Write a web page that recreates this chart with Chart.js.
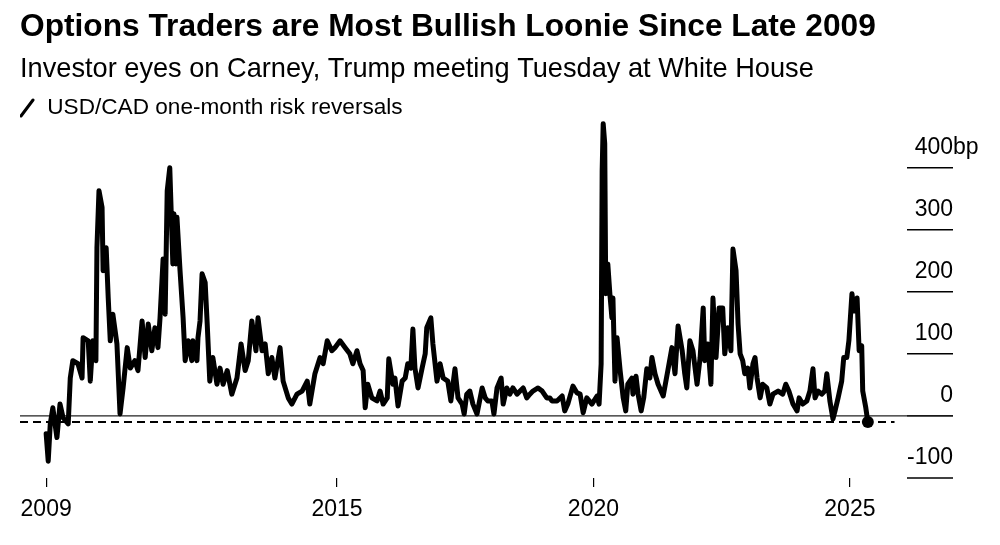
<!DOCTYPE html>
<html>
<head>
<meta charset="utf-8">
<script src="https://cdn.jsdelivr.net/npm/chart.js@4"></script>
<style>
  html, body { margin: 0; padding: 0; background: #fff; }
  .wrap { width: 1000px; height: 545px; }
</style>
</head>
<body>
<div class="wrap"><canvas class="js-chart"></canvas></div>
<script>
const TITLE = 'Options Traders are Most Bullish Loonie Since Late 2009';
const SUBTITLE = 'Investor eyes on Carney, Trump meeting Tuesday at White House';
const SERIES_LABEL = 'USD/CAD one-month risk reversals';
const Y_UNIT = 'bp';

// decimal years
const years = [
  2009.33, 2009.37, 2009.41, 2009.46, 2009.54, 2009.60, 2009.66, 2009.76, 2009.80, 2009.85,
  2009.95, 2010.03, 2010.05, 2010.15, 2010.19, 2010.24, 2010.30, 2010.32, 2010.36, 2010.42,
  2010.44, 2010.50, 2010.54, 2010.58, 2010.63, 2010.71, 2010.77, 2010.83, 2010.91, 2010.97,
  2011.06, 2011.12, 2011.20, 2011.26, 2011.32, 2011.39, 2011.45, 2011.51, 2011.55, 2011.61,
  2011.65, 2011.69, 2011.74, 2011.80, 2011.82, 2011.86, 2011.88, 2011.94, 2012.00, 2012.04,
  2012.10, 2012.17, 2012.19, 2012.27, 2012.29, 2012.33, 2012.37, 2012.43, 2012.47, 2012.52,
  2012.58, 2012.66, 2012.72, 2012.78, 2012.86, 2012.95, 2013.05, 2013.13, 2013.21, 2013.27,
  2013.34, 2013.42, 2013.46, 2013.54, 2013.60, 2013.66, 2013.73, 2013.79, 2013.89, 2013.95,
  2014.05, 2014.12, 2014.22, 2014.32, 2014.42, 2014.47, 2014.57, 2014.67, 2014.73, 2014.81,
  2014.90, 2014.96, 2015.06, 2015.16, 2015.25, 2015.31, 2015.39, 2015.45, 2015.51, 2015.55,
  2015.60, 2015.68, 2015.78, 2015.84, 2015.90, 2015.98, 2016.01, 2016.09, 2016.13, 2016.19,
  2016.27, 2016.33, 2016.38, 2016.44, 2016.48, 2016.52, 2016.58, 2016.66, 2016.72, 2016.75,
  2016.83, 2016.87, 2016.95, 2017.01, 2017.07, 2017.16, 2017.22, 2017.30, 2017.36, 2017.44,
  2017.48, 2017.53, 2017.59, 2017.65, 2017.73, 2017.83, 2017.89, 2017.94, 2018.02, 2018.06,
  2018.12, 2018.20, 2018.24, 2018.31, 2018.37, 2018.43, 2018.51, 2018.57, 2018.63, 2018.70,
  2018.76, 2018.82, 2018.92, 2019.00, 2019.09, 2019.15, 2019.19, 2019.29, 2019.39, 2019.44,
  2019.50, 2019.60, 2019.68, 2019.74, 2019.80, 2019.87, 2019.97, 2020.07, 2020.11, 2020.15,
  2020.17, 2020.19, 2020.22, 2020.24, 2020.28, 2020.32, 2020.36, 2020.38, 2020.42, 2020.46,
  2020.52, 2020.58, 2020.63, 2020.67, 2020.75, 2020.77, 2020.83, 2020.87, 2020.93, 2020.98,
  2021.04, 2021.10, 2021.14, 2021.20, 2021.26, 2021.36, 2021.45, 2021.53, 2021.59, 2021.65,
  2021.73, 2021.78, 2021.82, 2021.88, 2021.94, 2022.02, 2022.08, 2022.14, 2022.17, 2022.23,
  2022.29, 2022.33, 2022.39, 2022.45, 2022.52, 2022.56, 2022.62, 2022.68, 2022.72, 2022.78,
  2022.82, 2022.86, 2022.91, 2022.95, 2023.01, 2023.05, 2023.11, 2023.15, 2023.19, 2023.25,
  2023.30, 2023.38, 2023.44, 2023.50, 2023.60, 2023.69, 2023.75, 2023.81, 2023.89, 2023.97,
  2024.01, 2024.08, 2024.16, 2024.22, 2024.28, 2024.32, 2024.38, 2024.45, 2024.51, 2024.55,
  2024.61, 2024.67, 2024.71, 2024.77, 2024.84, 2024.88, 2024.94, 2024.98, 2025.04, 2025.08,
  2025.14, 2025.18, 2025.23, 2025.25, 2025.31, 2025.35,
];

// USD/CAD 1M risk reversal, bp
const riskReversals = [
  -29, -73, -13, 13, -35, 19, -3, -13, 61, 89,
  84, 61, 126, 121, 56, 121, 89, 271, 363, 336,
  234, 271, 190, 121, 164, 116, 3, 45, 110, 77,
  89, 73, 153, 94, 148, 105, 142, 110, 158, 253,
  164, 363, 400, 245, 326, 245, 320, 234, 158, 89,
  121, 89, 121, 89, 126, 153, 229, 215, 148, 56,
  94, 51, 77, 51, 73, 35, 61, 116, 73, 89,
  153, 105, 158, 105, 116, 68, 94, 61, 110, 56,
  29, 19, 35, 40, 56, 19, 68, 94, 84, 121,
  105, 110, 121, 110, 100, 84, 105, 84, 73, 13,
  51, 29, 24, 40, 19, 29, 92, 51, 61, 16,
  56, 61, 84, 77, 140, 77, 45, 77, 100, 142,
  158, 116, 56, 84, 61, 56, 24, 76, 29, 19,
  3, 35, 40, 19, 3, 45, 29, 24, 24, 3,
  45, 61, 19, 45, 35, 45, 35, 40, 45, 29,
  35, 40, 45, 40, 29, 29, 24, 24, 32, 8,
  19, 48, 37, 35, 5, 29, 19, 32, 19, 84,
  395, 471, 439, 197, 245, 197, 158, 190, 56, 126,
  73, 29, 8, 51, 61, 35, 64, 35, 8, 29,
  76, 61, 94, 68, 51, 32, 73, 110, 68, 145,
  105, 68, 45, 121, 105, 51, 94, 174, 89, 116,
  51, 190, 94, 174, 174, 100, 142, 105, 269, 234,
  148, 100, 89, 68, 77, 45, 84, 94, 61, 29,
  51, 45, 19, 35, 40, 35, 51, 40, 19, 8,
  29, 19, 24, 40, 76, 29, 40, 35, 40, 68,
  24, -5, 8, 29, 56, 94, 94, 121, 197, 169,
  190, 105, 113, 40, 13, -10,
];

const yTicks = [-100, 0, 100, 200, 300, 400];
const xTickYears = [2009, 2015, 2020, 2025];

const FONT = "'Liberation Sans', Arial, sans-serif";
const INK = '#000';

// slash used as the legend swatch
function slashIcon() {
  const c = document.createElement('canvas');
  c.width = 18;
  c.height = 20;
  const g = c.getContext('2d');
  g.strokeStyle = INK;
  g.lineWidth = 3;
  g.lineCap = 'round';
  g.beginPath();
  g.moveTo(2, 18);
  g.lineTo(14, 2);
  g.stroke();
  return c;
}

const lastIdx = riskReversals.length - 1;
const lastValue = riskReversals[lastIdx];

const overlay = {
  id: 'overlay',
  beforeDatasetsDraw(chart) {
    const { ctx, chartArea, scales: { x, y } } = chart;
    ctx.save();

    // short grid stubs with labels sitting on top
    ctx.strokeStyle = INK;
    ctx.fillStyle = INK;
    ctx.lineWidth = 1.5;
    ctx.font = `23px ${FONT}`;
    ctx.textBaseline = 'middle';
    yTicks.forEach((v, i) => {
      const py = y.getPixelForValue(v);
      ctx.beginPath();
      ctx.moveTo(chartArea.right - 46, py);
      ctx.lineTo(chartArea.right, py);
      ctx.stroke();
      ctx.textAlign = 'right';
      ctx.fillText(String(v), chartArea.right, py - 20);
      if (i === yTicks.length - 1) {
        ctx.textAlign = 'left';
        ctx.fillText(Y_UNIT, chartArea.right, py - 20);
      }
    });

    // zero line
    const zy = y.getPixelForValue(0);
    ctx.lineWidth = 1.2;
    ctx.strokeStyle = '#222';
    ctx.beginPath();
    ctx.moveTo(chartArea.left, zy);
    ctx.lineTo(chartArea.right, zy);
    ctx.stroke();

    // dashed line at the latest reading
    const ly = y.getPixelForValue(lastValue);
    ctx.lineWidth = 2;
    ctx.strokeStyle = INK;
    ctx.setLineDash([8, 5]);
    ctx.beginPath();
    ctx.moveTo(chartArea.left, ly);
    ctx.lineTo(x.getPixelForValue(years[lastIdx] + 0.52), ly);
    ctx.stroke();

    ctx.restore();
  },
};

const ctx = document.querySelector('.js-chart').getContext('2d');

new Chart(ctx, {
  type: 'line',
  data: {
    datasets: [
      {
        label: SERIES_LABEL,
        data: years.map((yr, i) => ({ x: yr, y: riskReversals[i] })),
        borderColor: INK,
        backgroundColor: INK,
        borderWidth: 5,
        borderJoinStyle: 'round',
        borderCapStyle: 'round',
        tension: 0,
        clip: false,
        pointStyle: 'circle',
        pointBorderWidth: 0,
        pointRadius: c => (c.index === lastIdx ? 6 : 0),
        pointHoverRadius: 0,
      },
    ],
  },
  options: {
    responsive: true,
    maintainAspectRatio: false,
    animation: false,
    layout: { padding: { left: 20, right: 47, top: 0, bottom: 12.5 } },
    plugins: {
      title: {
        display: true,
        text: TITLE,
        align: 'start',
        color: INK,
        font: { family: FONT, size: 31.7, weight: 'bold', lineHeight: 1.2 },
        padding: { top: 8, bottom: 0 },
      },
      subtitle: {
        display: true,
        text: SUBTITLE,
        align: 'start',
        color: INK,
        font: { family: FONT, size: 27.2, lineHeight: 1.2 },
        padding: { top: 7, bottom: 11 },
      },
      legend: {
        display: true,
        align: 'start',
        labels: {
          color: INK,
          font: { family: FONT, size: 22.6 },
          padding: 0,
          boxWidth: 16,
          usePointStyle: true,
          generateLabels: () => [{
            text: SERIES_LABEL,
            pointStyle: slashIcon(),
            fillStyle: INK,
            strokeStyle: INK,
            lineWidth: 0,
            datasetIndex: 0,
          }],
        },
      },
      tooltip: { enabled: false },
    },
    scales: {
      x: {
        type: 'linear',
        min: 2008.82,
        max: 2027.01,
        border: { display: false },
        grid: { drawOnChartArea: false, drawTicks: true, tickLength: 9, color: INK, lineWidth: 1.2 },
        afterBuildTicks: axis => {
          axis.ticks = xTickYears.map(v => ({ value: Math.max(v, years[0]) }));
        },
        ticks: {
          color: INK,
          font: { family: FONT, size: 23 },
          padding: 9,
          maxRotation: 0,
          callback: v => String(Math.floor(v)),
        },
      },
      y: {
        display: false,
        min: -100,
        max: 462,
      },
    },
  },
  plugins: [overlay],
});
</script>
</body>
</html>
